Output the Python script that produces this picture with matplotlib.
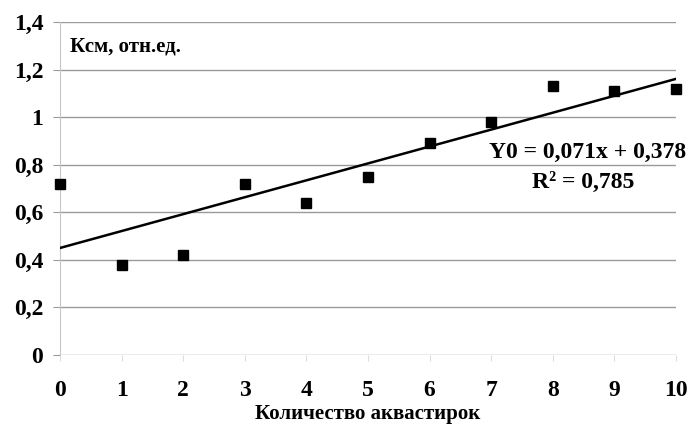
import numpy as np
import matplotlib
matplotlib.use('Agg')
import matplotlib.pyplot as plt
from matplotlib.ticker import FuncFormatter

plt.rcParams['font.family'] = ['Liberation Serif', 'DejaVu Serif']

# data
n_aqua = [0, 1, 2, 3, 4, 5, 6, 7, 8, 9, 10]
k_sm = [0.72, 0.38, 0.42, 0.72, 0.64, 0.75, 0.89, 0.98, 1.13, 1.11, 1.12]
y_ticks = [0, 0.2, 0.4, 0.6, 0.8, 1.0, 1.2, 1.4]
eq_text = 'Y0 = 0,071x + 0,378'
r2_text = 'R² = 0,785'

fig = plt.figure(figsize=(6.88, 4.28), dpi=100)
ax = fig.add_axes([60/688, 1 - 355/428, 616/688, 333/428])

x = np.array(n_aqua)
y = np.array(k_sm)
# linear trend
k, b = np.polyfit(x, y, 1)
ax.plot(x, k*x + b, color='black', lw=1.8, zorder=3)
ax.plot(x, y, 's', color='black', ms=7, zorder=4, clip_on=False)

ax.set_xlim(0, 10)
ax.set_ylim(0, 1.4)
ax.set_xticks(n_aqua)
ax.set_yticks(y_ticks)
ax.yaxis.set_major_formatter(FuncFormatter(lambda v, p: ('%g' % round(v, 1)).replace('.', ',')))
ax.grid(axis='y', color='#9a9a9a', lw=1)
ax.set_axisbelow(True)

for s in ['top', 'right', 'bottom']:
    ax.spines[s].set_visible(False)
ax.spines['left'].set_color('#c8c8c8')
ax.tick_params(axis='y', length=5, color='#9a9a9a', pad=7, labelsize=17)
ax.tick_params(axis='x', length=4, color='#dddddd', pad=14, labelsize=17)
for lbl in ax.get_xticklabels() + ax.get_yticklabels():
    lbl.set_fontweight('bold')

ax.set_xlabel('Количество аквастирок', fontsize=15, fontweight='bold', labelpad=2)
ax.text(0.016, 0.925, 'Ксм, отн.ед.', transform=ax.transAxes, fontsize=15,
        fontweight='bold', va='center', ha='left')
ax.text(686/688, 1 - 152/428, eq_text, transform=fig.transFigure, fontsize=17,
        fontweight='bold', ha='right', va='center')
ax.text(583/688, 1 - 182/428, r2_text, transform=fig.transFigure, fontsize=17,
        fontweight='bold', ha='center', va='center')

fig.savefig('out.png', dpi=100)
